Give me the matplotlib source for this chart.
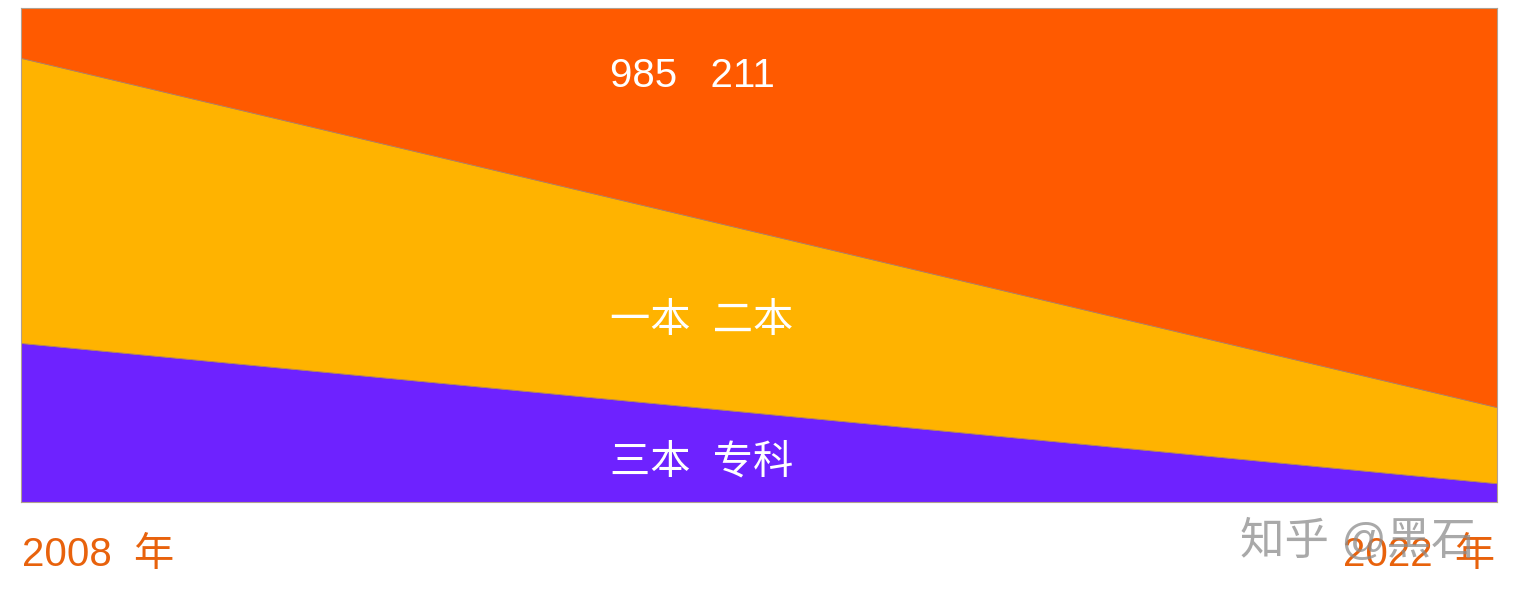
import numpy as np
import matplotlib.pyplot as plt

plt.rcParams['font.family'] = ['Liberation Sans', 'Noto Sans CJK SC', 'DejaVu Sans']

years = [2008, 2022]
sanben_zhuanke = [32.2, 3.8]   # 三本 专科
yiben_erben = [57.7, 15.4]     # 一本 二本
top_985_211 = [10.1, 80.8]     # 985 211
labels = ['三本  专科', '一本  二本', '985   211']
colors = ['#6E22FF', '#FFB300', '#FF5A00']

W, H = 1518, 598
fig = plt.figure(figsize=(W / 100, H / 100), dpi=100)
ax = fig.add_axes([21 / W, (H - 502) / H, 1476 / W, 494 / H])

ax.stackplot(years, sanben_zhuanke, yiben_erben, top_985_211,
             colors=colors, edgecolor='#b08060', linewidth=0.6)
ax.set_xlim(years[0], years[-1])
ax.set_ylim(0, 100)
ax.set_xticks([])
ax.set_yticks([])
for s in ax.spines.values():
    s.set_color('#b0a090')
    s.set_linewidth(0.8)

# band labels (pixel positions from the picture)
label_y = [458, 317, 72]
for lab, py in zip(labels, label_y):
    fig.text(610 / W, 1 - py / H, lab, color='white', fontsize=29,
             ha='left', va='center_baseline')

# year labels
fig.text(22 / W, 1 - 551 / H, f'{years[0]}  年', color='#E8620C',
         fontsize=29, ha='left', va='center_baseline')
fig.text(1495 / W, 1 - 551 / H, f'{years[-1]}  年', color='#E8620C',
         fontsize=29, ha='right', va='center_baseline')

# watermark
fig.text(1240 / W, 1 - 537 / H, '知乎 @黑石', color='#8c8c8c', alpha=0.75,
         fontsize=32, ha='left', va='center_baseline')

fig.savefig('out.png', dpi=100)
